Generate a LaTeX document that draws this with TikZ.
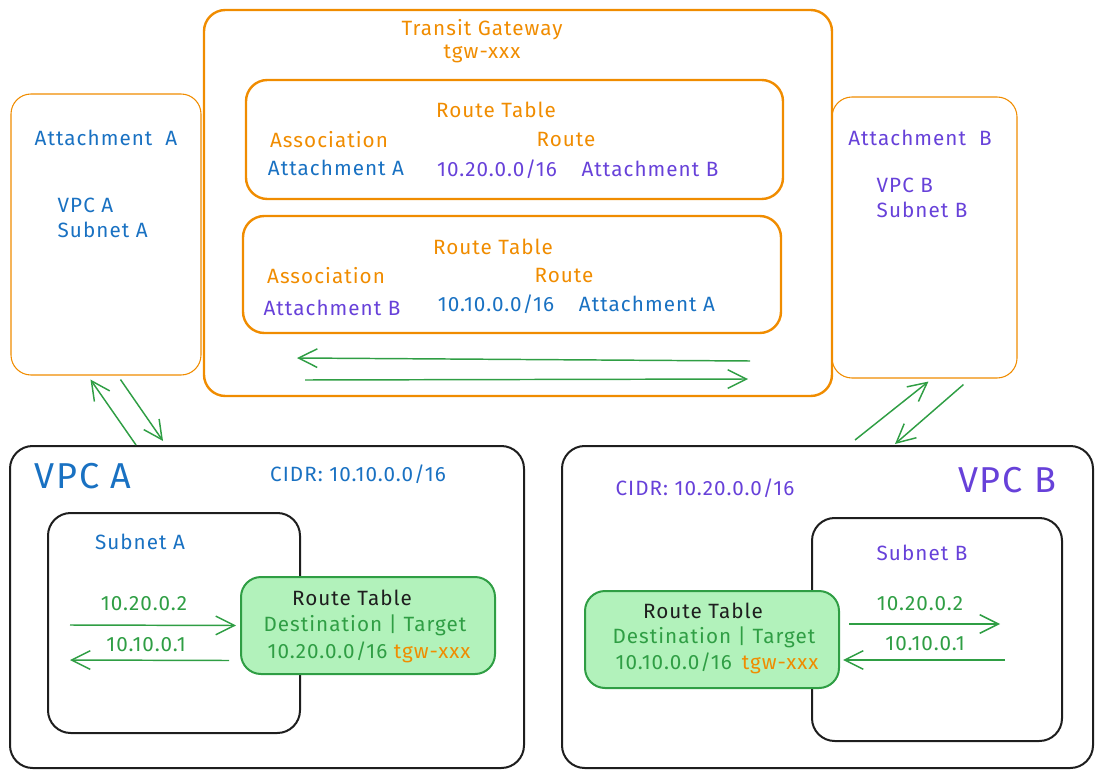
\documentclass[tikz,border=0pt]{standalone}
\usepackage{fontspec}
\setmainfont[LetterSpace=5]{Fira Sans}
\usetikzlibrary{arrows.meta,calc}
\definecolor{tgworange}{HTML}{F08C00}
\definecolor{vpcablue}{HTML}{1971C2}
\definecolor{vpcbviolet}{HTML}{6741D9}
\definecolor{routegreen}{HTML}{2F9E44}
\definecolor{routefill}{HTML}{B2F2BB}
\definecolor{ink}{HTML}{1E1E1E}
\begin{document}
\begin{tikzpicture}[x=0.75pt, y=-0.75pt,
    font=\fontsize{15.5}{19}\selectfont,
    tgwbox/.style={draw=tgworange, line width=1.8pt, rounded corners=16pt},
    attbox/.style={draw=tgworange, line width=0.8pt, rounded corners=15pt},
    vpcbox/.style={draw=ink, line width=1.5pt, rounded corners=17pt},
    rtbox/.style={draw=routegreen, fill=routefill, line width=1.5pt, rounded corners=15pt},
    tgw/.style={text=tgworange, align=center},
    vpca/.style={text=vpcablue},
    vpcb/.style={text=vpcbviolet},
    route/.style={text=routegreen},
    link/.style={draw=routegreen, line width=1.1pt, -{Straight Barb[length=14pt, width=14pt]}}]
  \useasboundingbox (0,0) rectangle (1102,777);
  \node [tgwbox, minimum width=471pt, minimum height=289.5pt] (tgw) at (518,203) {};
  \node [tgwbox, minimum width=402.75pt, minimum height=89.25pt] (rt1) at (514.5,139.5) {};
  \node [tgwbox, minimum width=403.5pt, minimum height=87.75pt] (rt2) at (512,274.5) {};
  \node [attbox, minimum width=142.5pt, minimum height=210.75pt] (attA) at (106,234.5) {};
  \node [attbox, minimum width=138.75pt, minimum height=210.75pt] (attB) at (924.5,237.5) {};
  \node [vpcbox, minimum width=385.5pt, minimum height=241.5pt] (vpcA) at (267,607) {};
  \node [vpcbox, minimum width=189pt, minimum height=165pt] (subA) at (174,623) {};
  \node [rtbox, minimum width=190.5pt, minimum height=72.75pt] (rtA) at (368,625.5) {};
  \node [vpcbox, minimum width=398.25pt, minimum height=241.5pt] (vpcB) at (827.5,607) {};
  \node [vpcbox, minimum width=187.5pt, minimum height=167.25pt] (subB) at (937,629.5) {};
  \node [rtbox, minimum width=190.5pt, minimum height=72.75pt] (rtB) at (712,639.5) {};
  \node [tgw, font=\fontsize{15.5}{17}\selectfont] (tgwname) at (482,41) {Transit Gateway\\tgw-xxx};
  \node [tgw] (rt1title) at (496,110) {Route Table};
  \node [tgw] (rt1assoc) at (329,140) {Association};
  \node [tgw] (rt1route) at (566,140) {Route};
  \node [vpca] (rt1att) at (336,168) {Attachment A};
  \node [vpcb] (rt1cidr) at (497,169) {10.20.0.0/16};
  \node [vpcb] (rt1target) at (650,169) {Attachment B};
  \node [tgw] (rt2title) at (493,247) {Route Table};
  \node [tgw] (rt2assoc) at (326,276) {Association};
  \node [tgw] (rt2route) at (564,276) {Route};
  \node [vpcb] (rt2att) at (332,308) {Attachment B};
  \node [vpca] (rt2cidr) at (496,304) {10.10.0.0/16};
  \node [vpca] (rt2target) at (647,304) {Attachment A};
  \node [vpca] (attAname) at (106,138) {Attachment\ \ A};
  \node [vpca, align=left, anchor=west] (attAvpc) at (53,218) {VPC A\\Subnet A};
  \node [vpcb] (attBname) at (920,138) {Attachment\ \ B};
  \node [vpcb, align=left, anchor=west] (attBvpc) at (872,198) {VPC B\\Subnet B};
  \node [vpca, font=\fontsize{27}{30}\selectfont] (vpcAname) at (83,476) {VPC A};
  \node [vpca] (vpcAcidr) at (358,474) {CIDR: 10.10.0.0/16};
  \node [vpca] (subAname) at (140,542) {Subnet A};
  \node [route] (subAout) at (144,604) {10.20.0.2};
  \node [route] (subAback) at (146,645) {10.10.0.1};
  \node [text=ink] (rtAtitle) at (352,598) {Route Table};
  \node [route] (rtAhead) at (365,625) {Destination | Target};
  \node [route] (rtArow) at (369,652) {10.20.0.0/16 \textcolor{tgworange}{tgw-xxx}};
  \node [vpcb, font=\fontsize{27}{30}\selectfont] (vpcBname) at (1007,480) {VPC B};
  \node [vpcb] (vpcBcidr) at (705,488) {CIDR: 10.20.0.0/16};
  \node [vpcb] (subBname) at (922,553) {Subnet B};
  \node [route] (subBout) at (920,604) {10.20.0.2};
  \node [route] (subBback) at (925,644) {10.10.0.1};
  \node [text=ink] (rtBtitle) at (703,611) {Route Table};
  \node [route] (rtBhead) at (714,637) {Destination | Target};
  \node [route] (rtBrow) at (717,663) {10.10.0.0/16 \,\textcolor{tgworange}{tgw-xxx}};
  \coordinate (tgwright) at (750,361);
  \coordinate (tgwleft) at (297,358);
  \coordinate (tgwstart) at (305,380);
  \coordinate (tgwend) at (748,379);
  \draw [link] (tgwright) -- (tgwleft);
  \draw [link] (tgwstart) -- (tgwend);
  \draw [link] ($(vpcA.north west)+(127,0)$) -- ($(attA.south west)+(80,4)$);
  \draw [link] ($(attA.south west)+(110,4)$) -- ($(vpcA.north west)+(154,-4)$);
  \draw [link] ($(vpcB.north west)+(294,-5)$) -- ($(attB.south west)+(97,3)$);
  \draw [link] ($(attB.south west)+(132,6)$) -- ($(vpcB.north west)+(334,-1)$);
  \coordinate (subAsrc) at (70,625);
  \coordinate (subAdst) at (70,660);
  \draw [link] (subAsrc) -- ($(rtA.west)+(-4,0)$);
  \draw [link] ($(rtA.west)+(-11,35)$) -- (subAdst);
  \coordinate (subBdst) at (1000,624);
  \coordinate (subBsrc) at (1005,660);
  \draw [link] ($(rtB.east)+(9,-15.5)$) -- (subBdst);
  \draw [link] (subBsrc) -- ($(rtB.east)+(3,20.5)$);
\end{tikzpicture}
\end{document}
